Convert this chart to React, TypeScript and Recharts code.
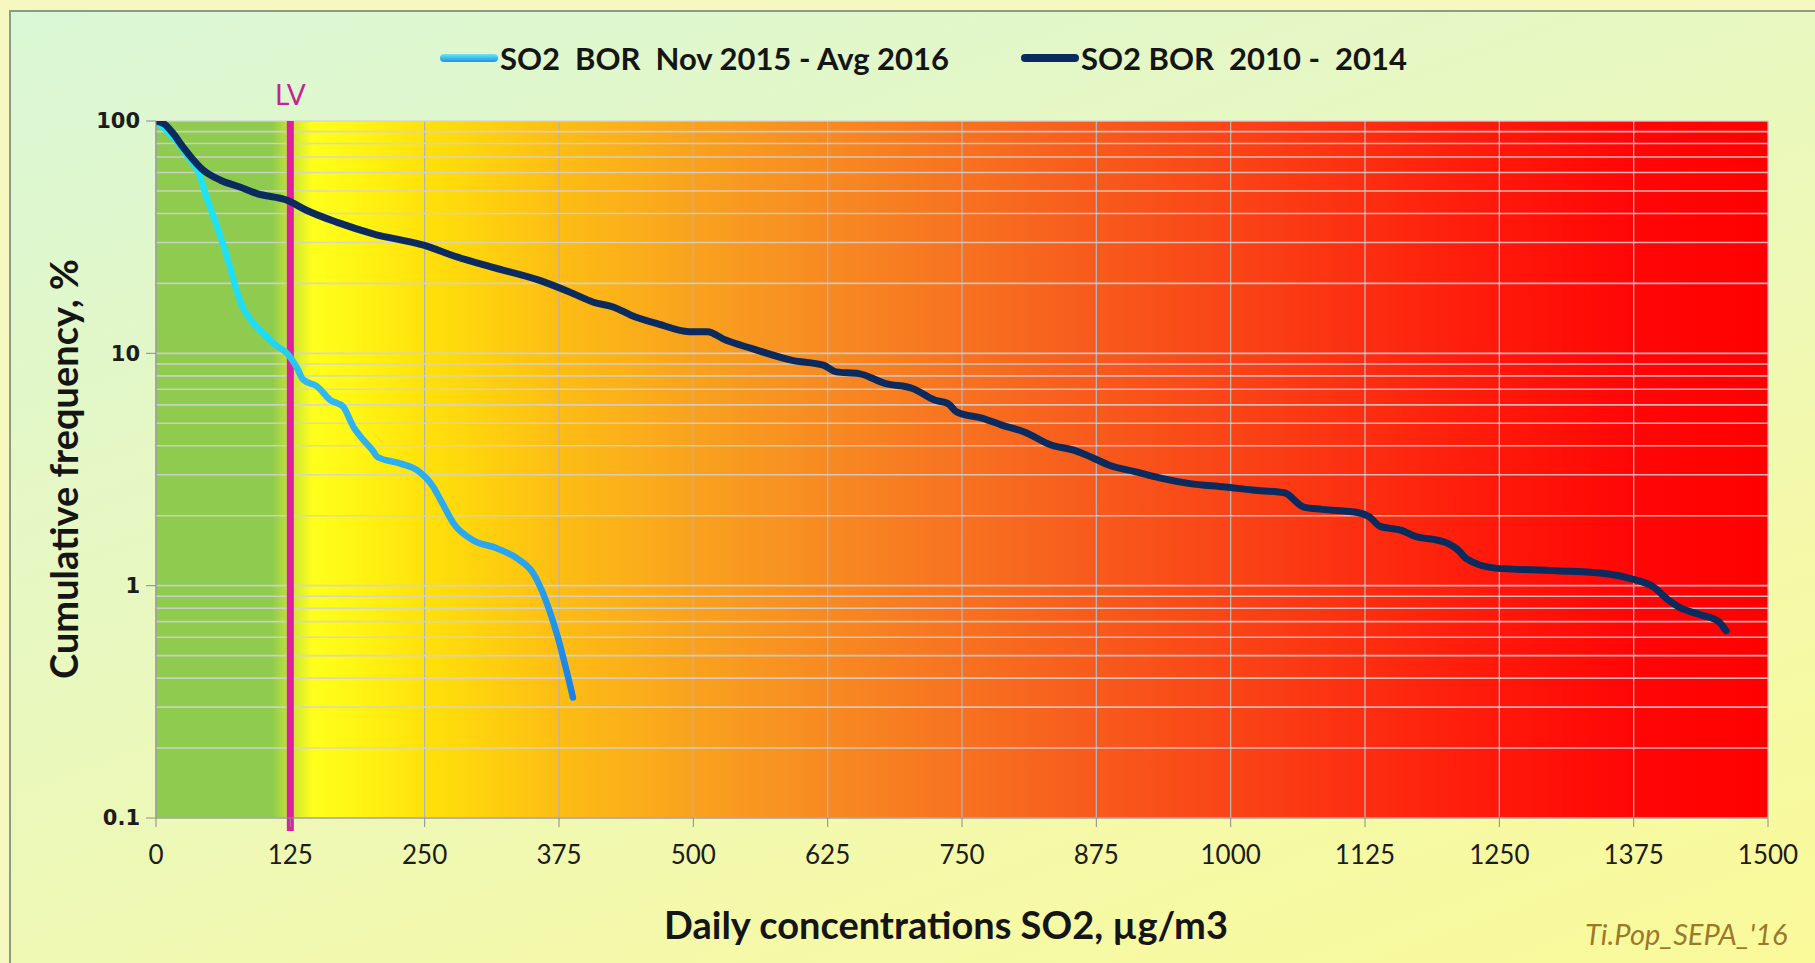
import React from 'react';
import { LineChart, Line, XAxis, YAxis, CartesianGrid, ReferenceLine } from 'recharts';

const recentConc = [0, 16, 32, 40, 47, 57, 66, 75, 78, 91, 103, 112, 122, 131, 137, 150, 162, 174, 184, 190, 202, 206, 227, 243, 258, 265, 277, 295, 317, 336, 351, 360, 373, 388];
const recentFreq = [100, 85, 68, 59.5, 47, 35, 26, 18.7, 16.9, 13.4, 11.8, 10.8, 10, 8.7, 7.7, 7.2, 6.3, 5.9, 4.8, 4.4, 3.8, 3.58, 3.36, 3.14, 2.66, 2.33, 1.85, 1.57, 1.45, 1.31, 1.13, 0.93, 0.62, 0.33];

const historicConc = [0, 8, 16, 25, 35, 44, 60, 78, 94, 122, 140, 168, 202, 249, 280, 311, 357, 388, 407, 426, 442, 467, 496, 513, 530, 554, 592, 621, 633, 654, 679, 704, 725, 737, 745, 770, 787, 808, 833, 854, 870, 887, 912, 937, 962, 995, 1020, 1050, 1068, 1085, 1119, 1129, 1139, 1159, 1169, 1202, 1212, 1219, 1246, 1303, 1353, 1373, 1393, 1407, 1417, 1437, 1454, 1461];
const historicFreq = [100, 96.8, 88.3, 77.3, 67.8, 61.4, 55.6, 52, 48.7, 45.6, 41.3, 36.7, 32.7, 29.2, 26, 23.6, 20.6, 18.1, 16.6, 15.8, 14.6, 13.4, 12.4, 12.4, 11.4, 10.5, 9.33, 8.89, 8.32, 8.18, 7.41, 7.06, 6.28, 6.08, 5.6, 5.24, 4.91, 4.59, 4.03, 3.83, 3.58, 3.3, 3.09, 2.89, 2.75, 2.66, 2.58, 2.51, 2.18, 2.13, 2.06, 1.98, 1.8, 1.73, 1.65, 1.52, 1.42, 1.31, 1.19, 1.16, 1.12, 1.07, 0.99, 0.87, 0.81, 0.75, 0.7, 0.64];

const xTicks = [0, 125, 250, 375, 500, 625, 750, 875, 1000, 1125, 1250, 1375, 1500];
const yTicks = [0.1, 1, 10, 100];
const yGridValues = [0.1, 0.2, 0.3, 0.4, 0.5, 0.6, 0.7, 0.8, 0.9, 1, 2, 3, 4, 5, 6, 7, 8, 9, 10, 20, 30, 40, 50, 60, 70, 80, 90, 100];
const limitValue = 125;
const seriesNames = ['SO2  BOR  Nov 2015 - Avg 2016', 'SO2 BOR  2010 -  2014'];
const xTitle = 'Daily concentrations SO2, µg/m3';
const yTitle = 'Cumulative frequency, %';
const credit = "Ti.Pop_SEPA_'16";

const recentData = recentConc.map((c, i) => ({ conc: c, freq: recentFreq[i] }));
const historicData = historicConc.map((c, i) => ({ conc: c, freq: historicFreq[i] }));

const FONT = 'Lato, "Open Sans", sans-serif';

export default function App() {
  return (
    <div style={{ position: 'absolute', left: 0, top: 0, width: 1815, height: 963, overflow: 'hidden', background: '#f7f8c0', fontFamily: FONT }}>
      <div style={{ position: 'absolute', left: 9, top: 10, width: 1840, height: 1000, borderTop: '2px solid #8d9a84', borderLeft: '2px solid #8d9a84', background: 'linear-gradient(160deg, #daf7d6 0%, #eaf8bc 45%, #f6f9a6 75%, #fafa98 100%)' }} />
      <div style={{ position: 'absolute', left: 0, top: 0 }}>
        <LineChart width={1815} height={963} margin={{ top: 121, right: 47, bottom: 115, left: 96 }}>
          <defs>
            <linearGradient id="plotGrad" x1="0" y1="0" x2="1" y2="0">
              <stop offset="0" stopColor="#8fcb4f" />
              <stop offset="0.072" stopColor="#8fcb4f" />
              <stop offset="0.083" stopColor="#c6e23a" />
              <stop offset="0.097" stopColor="#ffff1c" />
              <stop offset="0.125" stopColor="#fff514" />
              <stop offset="0.167" stopColor="#ffe10a" />
              <stop offset="0.25" stopColor="#fdbd14" />
              <stop offset="0.333" stopColor="#f9a21e" />
              <stop offset="0.417" stopColor="#f78a22" />
              <stop offset="0.5" stopColor="#f77220" />
              <stop offset="0.583" stopColor="#f85a1c" />
              <stop offset="0.667" stopColor="#fa4416" />
              <stop offset="0.75" stopColor="#fc2e10" />
              <stop offset="0.833" stopColor="#ff180a" />
              <stop offset="0.917" stopColor="#ff0606" />
              <stop offset="1" stopColor="#ff0000" />
            </linearGradient>
            <linearGradient id="recentGrad" x1="0" y1="0" x2="0" y2="1">
              <stop offset="0" stopColor="#1fe6f6" />
              <stop offset="0.37" stopColor="#20dcf4" />
              <stop offset="0.45" stopColor="#30b8f0" />
              <stop offset="0.75" stopColor="#2aa6ee" />
              <stop offset="1" stopColor="#1a80e6" />
            </linearGradient>
          </defs>
          <CartesianGrid fill="url(#plotGrad)" horizontal={false} vertical={true} stroke="#b4b4b4" strokeWidth={1.3} />
          <CartesianGrid horizontal={true} vertical={false} horizontalValues={yGridValues} stroke="#d2d2d2" strokeOpacity={0.85} strokeWidth={1.6} />
          <XAxis
            type="number"
            dataKey="conc"
            domain={[0, 1500]}
            ticks={xTicks}
            interval={0}
            allowDataOverflow
            height={30}
            stroke="#8c8c8c"
            tickSize={9}
            tickMargin={19}
            tick={{ fontFamily: FONT, fontSize: 26, fill: '#1c1c1c' }}
          />
          <YAxis
            type="number"
            scale="log"
            domain={[0.1, 100]}
            ticks={yTicks}
            interval={0}
            allowDataOverflow
            width={60}
            stroke="#8c8c8c"
            tickSize={10}
            tickMargin={6}
            tickFormatter={(v: number) => String(v)}
            tick={{ fontFamily: '"DejaVu Sans", Verdana, sans-serif', fontSize: 21, fontWeight: 'bold', fill: '#1c1c1c' }}
          />
          <ReferenceLine
            segment={[{ x: limitValue, y: 100 }, { x: limitValue, y: 0.088 }]}
            ifOverflow="visible"
            stroke="#dd1fa0"
            strokeWidth={7}
            label={{ value: 'LV', position: 'top', offset: 16, fill: '#c8229a', fontSize: 28, fontFamily: FONT }}
          />
          <Line
            data={recentData}
            dataKey="freq"
            type="monotone"
            stroke="url(#recentGrad)"
            strokeWidth={6.5}
            dot={false}
            strokeLinecap="round"
            strokeLinejoin="round"
            isAnimationActive={false}
          />
          <Line
            data={historicData}
            dataKey="freq"
            type="monotone"
            stroke="#0b2b5e"
            strokeWidth={7}
            dot={false}
            strokeLinecap="round"
            strokeLinejoin="round"
            isAnimationActive={false}
          />
        </LineChart>
      </div>
      {/* Legend */}
      <div style={{ position: 'absolute', left: 440, top: 40, height: 36, display: 'flex', alignItems: 'center', whiteSpace: 'pre', fontWeight: 700, fontSize: 31, color: '#151515' }}>
        <div style={{ width: 58, height: 8, borderRadius: 4, background: 'linear-gradient(180deg, #6fe6fa 0%, #35b4ee 60%, #2a90e0 100%)' }} />
        <span style={{ marginLeft: 2 }}>{seriesNames[0]}</span>
        <div style={{ width: 58, height: 8, borderRadius: 4, background: '#0b2b5e', marginLeft: 72 }} />
        <span style={{ marginLeft: 2 }}>{seriesNames[1]}</span>
      </div>
      {/* Axis titles */}
      <div style={{ position: 'absolute', left: 946, top: 924, transform: 'translate(-50%, -50%)', whiteSpace: 'pre', fontWeight: 700, fontSize: 38, color: '#151515' }}>{xTitle}</div>
      <div style={{ position: 'absolute', left: 63, top: 469, transform: 'translate(-50%, -50%) rotate(-90deg)', whiteSpace: 'pre', fontWeight: 700, fontSize: 38, color: '#151515' }}>{yTitle}</div>
      <div style={{ position: 'absolute', left: 1585, top: 933, transform: 'translateY(-50%)', whiteSpace: 'pre', fontStyle: 'italic', fontSize: 29, color: '#9a7a2a' }}>{credit}</div>
    </div>
  );
}
